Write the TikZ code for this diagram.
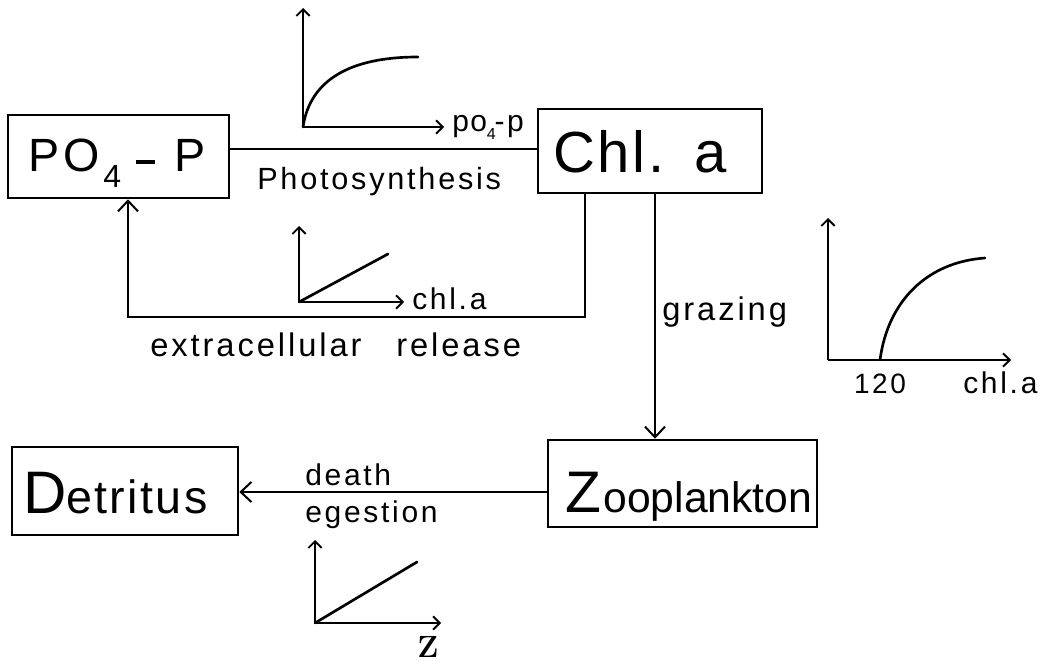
\documentclass[tikz,border=0pt]{standalone}
\usepackage{fontspec}
\newfontfamily\labfont[LetterSpace=9]{Liberation Sans}
\newfontfamily\boxfont[LetterSpace=5]{Liberation Sans}
\newfontfamily\plainfont{Liberation Sans}
\usetikzlibrary{arrows.meta}
\tikzset{
  box/.style={draw, line width=1.9pt, inner ysep=0pt, text depth=0pt, anchor=center},
  link/.style={line width=1.9pt},
  arrowed/.style={-{Straight Barb[length=8pt,width=15pt,line width=1.5pt]}},
  axis/.style={line width=1.7pt, -{Straight Barb[length=5pt,width=10pt,line width=1.4pt]}},
  curve/.style={line width=2pt, line cap=round},
  lbl/.style={inner sep=0pt, anchor=base west, font=\labfont\fontsize{22.5}{24}\selectfont},
}
\begin{document}
\begin{tikzpicture}[x=0.75pt,y=-0.75pt]
\useasboundingbox (0,0) rectangle (1044,666);

% compartments
\node[box, inner xsep=15pt, minimum height=62.25pt, text height=23.25pt] (po4) at (118.5,156.5)
  {\makebox[135.75pt][l]{\boxfont\fontsize{35}{36}\selectfont P\hspace{3pt}O\hspace{3pt}\raisebox{-12pt}{\fontsize{24}{24}\selectfont 4}\hspace{11pt}\rule[6pt]{14pt}{2.8pt}\hspace{15pt}P}};
\node[box, inner xsep=11.25pt, minimum height=63pt, text height=33pt] (chla) at (650,151)
  {\makebox[145.5pt][l]{\boxfont\fontsize{43.5}{44}\selectfont Chl.\hspace{22pt}a}};
\node[box, inner xsep=12.75pt, minimum height=65.25pt, text height=42.75pt] (zoo) at (682.5,483.5)
  {\makebox[176.25pt][l]{\plainfont\fontsize{44}{44}\selectfont Z\hspace{2pt}\fontsize{32}{33}\selectfont ooplankton}};
\node[box, inner xsep=8.25pt, minimum height=66pt, text height=33pt] (det) at (125,491)
  {\makebox[153pt][l]{\boxfont\fontsize{45}{45}\selectfont D\fontsize{35}{36}\selectfont etritus}};

% flows between compartments
\coordinate (ph) at (380,149);
\draw[link] (po4.east |- ph) -- (chla.west |- ph);
\coordinate (er) at (585,317);
\coordinate (el) at (128,317);
\draw[link, arrowed] (chla.south -| er) -- (er) -- (el) -- (po4.south -| el);
\coordinate (gz) at (655,300);
\draw[link, arrowed] (chla.south -| gz) -- (zoo.north -| gz);
\coordinate (dl) at (400,492);
\draw[link, arrowed] (zoo.west |- dl) -- (det.east |- dl);

% rate curves
\draw[axis] (303,127) -- (303,8);
\draw[axis] (303,127) -- (444,127);
\draw[curve] (303,127) .. controls (310,80) and (350,57) .. (418,57);

\draw[axis] (299,302) -- (299,226);
\draw[axis] (299,302) -- (404,302);
\draw[curve] (299,302) -- (388,254);

\draw[axis] (828,360) -- (828,218);
\draw[axis] (828,360) -- (1011,360);
\draw[curve] (880,360) .. controls (888,300) and (928,262) .. (985,258);

\draw[axis] (315,623) -- (315,540);
\draw[axis] (315,623) -- (441,623);
\draw[curve] (315,623) -- (417,562);

% labels
\node[lbl, font=\labfont\fontsize{23}{24}\selectfont] (phot) at (257,190) {Photosynthesis};
\node[lbl, font=\labfont\fontsize{24.5}{26}\selectfont] (ecr) at (150,356) {extracellular\hspace{26pt}release};
\node[lbl, font=\labfont\fontsize{24.5}{26}\selectfont] (graz) at (662,320) {grazing};
\node[lbl] (chlm) at (412,309) {chl.a};
\node[lbl] (po4p) at (452,132) {p\hspace{1pt}o\raisebox{-6pt}{\fontsize{12}{12}\selectfont 4}\hspace{-1pt}-p};
\node[lbl, anchor=base, font=\labfont\fontsize{21}{22}\selectfont] (t120) at (880,393) {120};
\node[lbl] (chlr) at (963,393) {chl.a};
\node[lbl] (dth) at (305,485) {death};
\node[lbl] (ege) at (305,522) {egestion};
\node[inner sep=0pt, anchor=base, font=\bfseries\fontsize{23}{23}\selectfont] (zlab) at (428,657) {Z};
\end{tikzpicture}
\end{document}
